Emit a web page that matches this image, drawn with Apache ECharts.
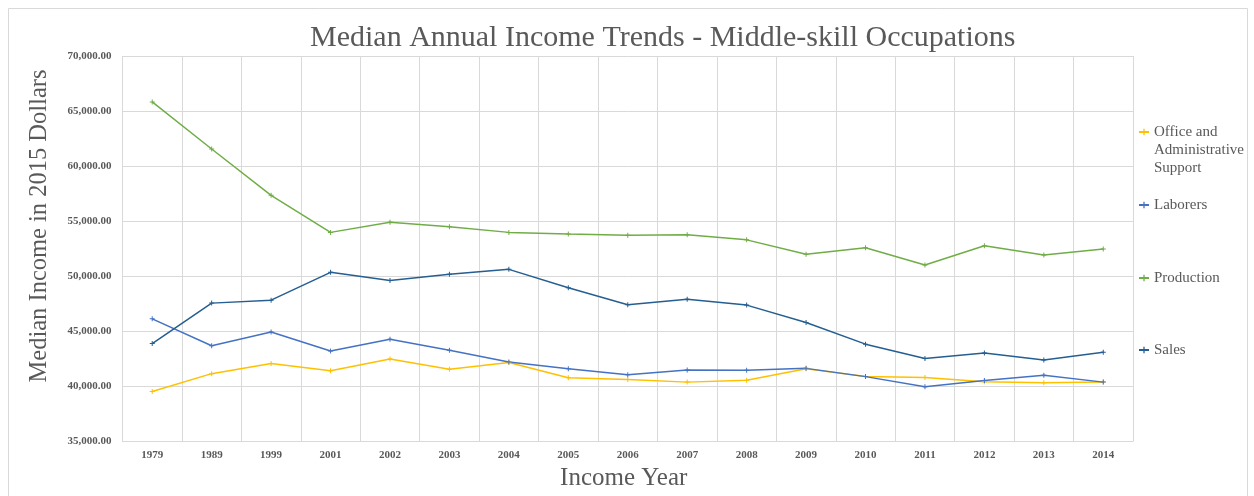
<!DOCTYPE html>
<html>
<head>
<meta charset="utf-8">
<script src="https://cdn.jsdelivr.net/npm/echarts@6/dist/echarts.min.js"></script>
<style>html,body{margin:0;padding:0;background:#fff;}#c{width:1254px;height:496px;}</style>
</head>
<body>
<div id="c"></div>
<script>
var years = ['1979','1989','1999','2001','2002','2003','2004','2005','2006','2007','2008','2009','2010','2011','2012','2013','2014'];
var office = [39500,41130,42060,41400,42470,41520,42150,40750,40590,40360,40540,41580,40880,40770,40390,40300,40360];
var laborers = [46110,43670,44920,43190,44260,43250,42180,41580,41040,41460,41430,41610,40860,39940,40510,40990,40360];
var production = [65830,61550,57340,53970,54900,54480,53970,53820,53710,53750,53290,51980,52570,51000,52750,51920,52460];
var sales = [43870,47540,47810,50340,49590,50160,50610,48940,47390,47900,47360,45780,43810,42510,43010,42380,43070];
var yTicks = {min: 35000, max: 70000, interval: 5000};

var serif = '"Liberation Serif", "Times New Roman", serif';
var txt = '#595959';
var plus = 'path://M4,0H6V4H10V6H6V10H4V6H0V4H4Z';

function mkSeries(name, data, color) {
  return {
    name: name, type: 'line', data: data,
    symbol: plus, symbolSize: 5, showAllSymbol: true,
    lineStyle: {color: color, width: 1.5},
    itemStyle: {color: color},
    emphasis: {disabled: true}
  };
}
function mkLegend(name, top) {
  return {
    data: [name], orient: 'vertical', left: 1138, top: top, padding: 0,
    itemWidth: 10, itemHeight: 8,
    textStyle: {fontFamily: serif, fontSize: 15, color: txt, lineHeight: 18}
  };
}
var legends = [
  mkLegend('Office and Administrative Support', 87),
  mkLegend('Laborers', 196),
  mkLegend('Production', 269),
  mkLegend('Sales', 341)
];
legends[0].formatter = function () { return '\n\nOffice and\nAdministrative\nSupport'; };

var chart = echarts.init(document.getElementById('c'), null, {renderer: 'canvas'});
chart.setOption({
  animation: false,
  backgroundColor: '#fff',
  graphic: [{
    type: 'rect', left: 6, top: 6, shape: {width: 1239, height: 500},
    style: {fill: 'none', stroke: '#d9d9d9', lineWidth: 1}, silent: true
  }, {
    type: 'text', x: 40, y: 226, rotation: Math.PI / 2,
    style: {text: 'Median Income in 2015 Dollars', fontFamily: serif, fontSize: 24.5, fill: txt,
      align: 'center', verticalAlign: 'middle'}
  }],
  title: {
    text: 'Median Annual Income Trends - Middle-skill Occupations',
    left: 305, top: 18,
    textStyle: {fontFamily: serif, fontSize: 30, fontWeight: 'normal', color: txt}
  },
  legend: legends,
  grid: {left: 122.5, right: 121, top: 56, bottom: 49, containLabel: false},
  xAxis: {
    type: 'category', data: years, boundaryGap: true,
    name: 'Income Year', nameLocation: 'middle', nameGap: 22,
    nameTextStyle: {fontFamily: serif, fontSize: 25, color: txt, padding: [0, 8, 0, 0]},
    axisLine: {show: true, lineStyle: {color: '#d9d9d9', width: 1}},
    axisTick: {show: false},
    axisLabel: {fontFamily: serif, fontSize: 11, fontWeight: 'bold', color: txt, margin: 9, interval: 0},
    splitLine: {show: true, lineStyle: {color: '#d9d9d9', width: 1}}
  },
  yAxis: {
    type: 'value', min: yTicks.min, max: yTicks.max, interval: yTicks.interval,
    axisLine: {show: false}, axisTick: {show: false},
    axisLabel: {
      fontFamily: serif, fontSize: 11, fontWeight: 'bold', color: txt, margin: 11,
      formatter: function (v) {
        return v.toLocaleString('en-US', {minimumFractionDigits: 2, maximumFractionDigits: 2});
      }
    },
    splitLine: {show: true, lineStyle: {color: '#d9d9d9', width: 1}}
  },
  series: [
    mkSeries('Office and Administrative Support', office, '#FFC000'),
    mkSeries('Laborers', laborers, '#4472C4'),
    mkSeries('Production', production, '#70AD47'),
    mkSeries('Sales', sales, '#255E91')
  ]
});
</script>
</body>
</html>
